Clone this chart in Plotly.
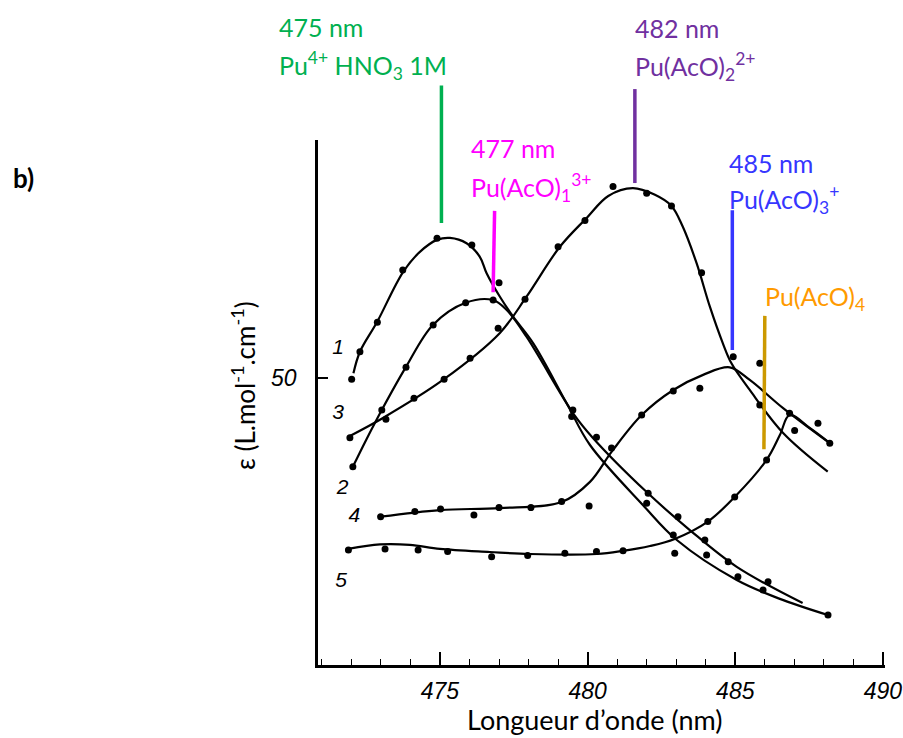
import plotly.graph_objects as go

# ---------------- data (wavelength nm, epsilon) ----------------
# measured points (dots)
c1_dot_x = [472.01, 472.29, 472.88, 473.74, 474.90, 476.08, 477.00, 479.50, 480.30, 482.00, 482.90, 484.03, 485.09, 485.94, 488.14]
c1_dot_y = [49.94, 51.18, 52.51, 54.86, 56.29, 55.99, 54.29, 48.56, 47.33, 44.36, 42.93, 42.03, 41.05, 40.45, 39.32]
c2_dot_x = [472.05, 473.03, 473.85, 474.77, 475.87, 476.80, 479.46, 482.05, 483.06, 483.97, 484.76, 486.11]
c2_dot_y = [46.00, 48.56, 50.48, 52.39, 53.39, 53.51, 48.26, 44.81, 43.75, 42.70, 41.72, 40.82]
c3_dot_x = [471.95, 473.17, 474.12, 475.14, 476.02, 476.97, 477.88, 479.00, 479.91, 480.86, 482.00, 482.84, 483.86, 484.93, 485.83]
c3_dot_y = [47.31, 48.14, 49.09, 49.94, 50.89, 52.24, 53.55, 55.91, 57.09, 58.62, 58.32, 57.75, 54.74, 50.96, 48.78]
c4_dot_x = [472.99, 474.15, 475.02, 476.15, 477.00, 478.08, 479.12, 480.05, 480.81, 481.83, 482.90, 483.80, 485.83, 486.84, 487.80, 488.20]
c4_dot_y = [43.75, 43.98, 44.10, 43.83, 44.16, 44.16, 44.43, 44.23, 46.85, 48.33, 49.41, 49.54, 50.66, 48.41, 47.96, 47.06]
c5_dot_x = [471.90, 473.14, 474.26, 475.26, 476.75, 477.97, 479.23, 480.30, 481.20, 482.95, 484.07, 484.98, 486.06, 487.01]
c5_dot_y = [42.25, 42.30, 42.25, 42.18, 41.95, 42.00, 42.10, 42.18, 42.22, 42.10, 43.53, 44.64, 46.31, 47.63]

# hand-drawn smooth curves
c1_x = [472.07, 472.29, 472.87, 473.75, 474.32, 474.90, 475.34, 475.90, 476.35, 476.58, 477.03, 477.48, 478.16, 479.29, 480.08, 481.87, 483.02, 485.05, 486.51, 488.14]
c1_y = [50.21, 51.18, 52.52, 54.77, 55.68, 56.22, 56.31, 56.07, 55.46, 54.72, 53.66, 52.76, 51.56, 48.86, 46.98, 44.28, 42.70, 40.90, 40.05, 39.32]
c2_x = [472.05, 472.50, 473.03, 473.85, 474.76, 475.87, 476.79, 477.26, 477.93, 479.51, 480.18, 482.00, 483.46, 485.05, 487.28]
c2_y = [46.00, 47.21, 48.56, 50.50, 52.39, 53.39, 53.51, 53.06, 51.86, 48.41, 47.30, 44.86, 43.15, 41.49, 39.86]
c3_x = [471.95, 473.07, 475.10, 477.03, 477.93, 479.06, 479.96, 480.70, 481.53, 482.28, 482.84, 483.22, 483.69, 484.14, 484.58, 484.87, 485.49, 486.62, 488.13]
c3_y = [47.39, 48.20, 49.91, 52.03, 53.66, 55.91, 57.20, 58.20, 58.55, 58.25, 57.75, 56.82, 55.17, 53.21, 51.56, 50.66, 49.46, 47.52, 45.78]
c4_x = [472.99, 475.00, 477.03, 479.12, 480.08, 480.81, 481.83, 482.90, 483.91, 484.81, 485.49, 486.62, 488.20]
c4_y = [43.75, 44.05, 44.14, 44.41, 45.32, 46.67, 48.33, 49.46, 50.14, 50.48, 49.91, 48.64, 47.06]
c5_x = [471.89, 472.97, 473.98, 475.00, 476.69, 478.05, 480.31, 481.19, 482.11, 482.95, 484.07, 484.98, 486.06, 486.51, 486.84, 487.52, 488.20]
c5_y = [42.30, 42.50, 42.48, 42.30, 42.16, 42.07, 42.07, 42.21, 42.43, 42.75, 43.53, 44.64, 46.31, 47.43, 48.33, 47.75, 47.07]

curve_labels = ["1", "2", "3", "4", "5"]
curve_label_x = [471.55, 471.7, 471.55, 472.1, 471.65]
curve_label_y = [51.3, 45.0, 48.4, 43.75, 40.8]

x_ticks = [475, 480, 485, 490]
y_ticks = [50]

# callout lines (wavelength top / bottom, paper y top / bottom)
call_wl = [475.05, 476.85, 481.6, 484.9, 486.0]
call_wl_bottom = [475.05, 476.8, 481.6, 484.9, 485.97]
call_top = [1.104, 0.865, 1.097, 0.866, 0.665]
call_bot = [0.842, 0.710, 0.918, 0.600, 0.411]
call_colors = ["#00B050", "#FF00FF", "#7030A0", "#3636FF", "#CC9900"]

# label text, left edge and vertical centre in page pixels
label_lines = [
    ("475 nm", 277, 27, "#00B050"),
    ("Pu<sup>4+</sup> HNO<sub>3</sub> 1M", 277, 65, "#00B050"),
    ("477 nm", 469, 148, "#FF00FF"),
    ("Pu(AcO)<sub>1</sub><sup>3+</sup>", 469, 187, "#FF00FF"),
    ("482 nm", 633, 28, "#7030A0"),
    ("Pu(AcO)<sub>2</sub><sup>2+</sup>", 633, 67, "#7030A0"),
    ("485 nm", 727, 163, "#3636FF"),
    ("Pu(AcO)<sub>3</sub><sup>+</sup>", 727, 199, "#3636FF"),
    ("Pu(AcO)<sub>4</sub>", 763, 298, "#FF9A00"),
]

# ---------------- figure ----------------
W, H = 903, 738
PL, PT, PR, PB = 318, 140, 885, 665   # plot area in page pixels
L, T = PL, PT
PW, PH = PR - PL, PB - PT
R = W - L - PW
B = H - T - PH


def px(xp):
    return (xp - PL) / PW


def py(yp):
    return (PB - yp) / PH


fig = go.Figure()
for cx, cy in [(c1_x, c1_y), (c2_x, c2_y), (c3_x, c3_y), (c4_x, c4_y), (c5_x, c5_y)]:
    fig.add_trace(go.Scatter(x=cx, y=cy, mode="lines",
                             line=dict(color="black", width=2.2, shape="spline", smoothing=1.0),
                             hoverinfo="skip", showlegend=False))
for dx, dy in [(c1_dot_x, c1_dot_y), (c2_dot_x, c2_dot_y), (c3_dot_x, c3_dot_y),
               (c4_dot_x, c4_dot_y), (c5_dot_x, c5_dot_y)]:
    fig.add_trace(go.Scatter(x=dx, y=dy, mode="markers",
                             marker=dict(color="black", size=7),
                             showlegend=False))

fig.add_trace(go.Scatter(x=curve_label_x, y=curve_label_y, mode="text", text=curve_labels,
                         textfont=dict(family="Liberation Sans", size=21, color="black", style="italic"),
                         showlegend=False, hoverinfo="skip"))

shapes = []
for i in range(len(call_wl)):
    shapes.append(dict(type="line", xref="x", yref="paper",
                       x0=call_wl[i], x1=call_wl_bottom[i], y0=call_top[i], y1=call_bot[i],
                       line=dict(color=call_colors[i], width=3.5)))

annotations = []
for txt, xp, yp, col in label_lines:
    annotations.append(dict(text=txt, xref="paper", yref="paper",
                            x=px(xp), y=py(yp),
                            xanchor="left", yanchor="middle", showarrow=False,
                            font=dict(family="Lato", size=25, color=col)))

annotations.append(dict(text="<b>b)</b>", xref="paper", yref="paper",
                        x=px(11), y=py(178), xanchor="left", yanchor="middle",
                        showarrow=False, font=dict(family="Lato", size=26, color="black")))
annotations.append(dict(text="ε (L.mol<sup>-1</sup>.cm<sup>-1</sup>)", xref="paper", yref="paper",
                        x=px(243), y=py(386), xanchor="center", yanchor="middle",
                        textangle=-90, showarrow=False,
                        font=dict(family="Lato", size=26, color="black")))
annotations.append(dict(text="Longueur d’onde (nm)", xref="paper", yref="paper",
                        x=px(595), y=py(719), xanchor="center", yanchor="middle",
                        showarrow=False, font=dict(family="Lato", size=27, color="black")))

fig.update_layout(
    width=W, height=H,
    margin=dict(l=L, r=R, t=T, b=B, autoexpand=False),
    paper_bgcolor="white", plot_bgcolor="white",
    shapes=shapes, annotations=annotations,
    showlegend=False,
)
fig.update_xaxes(range=[470.87, 490.07], tickvals=x_ticks, ticktext=[str(v) for v in x_ticks],
                 showgrid=False, zeroline=False, showline=True, linecolor="black", linewidth=2.5,
                 ticks="inside", ticklen=13, tickwidth=1.5, tickcolor="black",
                 ticklabelstandoff=4, ticklabeloverflow="allow",
                 minor=dict(dtick=1, tick0=471, ticks="inside", ticklen=6, tickwidth=1.3, tickcolor="black"),
                 tickfont=dict(family="Liberation Sans", size=23, color="black", style="italic"))
fig.update_yaxes(range=[37.07, 60.72], tickvals=y_ticks, ticktext=[str(v) for v in y_ticks],
                 showgrid=False, zeroline=False, showline=True, linecolor="black", linewidth=2.5,
                 ticks="inside", ticklen=10, tickwidth=1.5, tickcolor="black",
                 ticklabelstandoff=14,
                 tickfont=dict(family="Liberation Sans", size=23, color="black", style="italic"))

fig.write_html("out.html", config={"displayModeBar": False},
               post_script="document.body.style.margin='0px';document.body.style.overflow='hidden';")
